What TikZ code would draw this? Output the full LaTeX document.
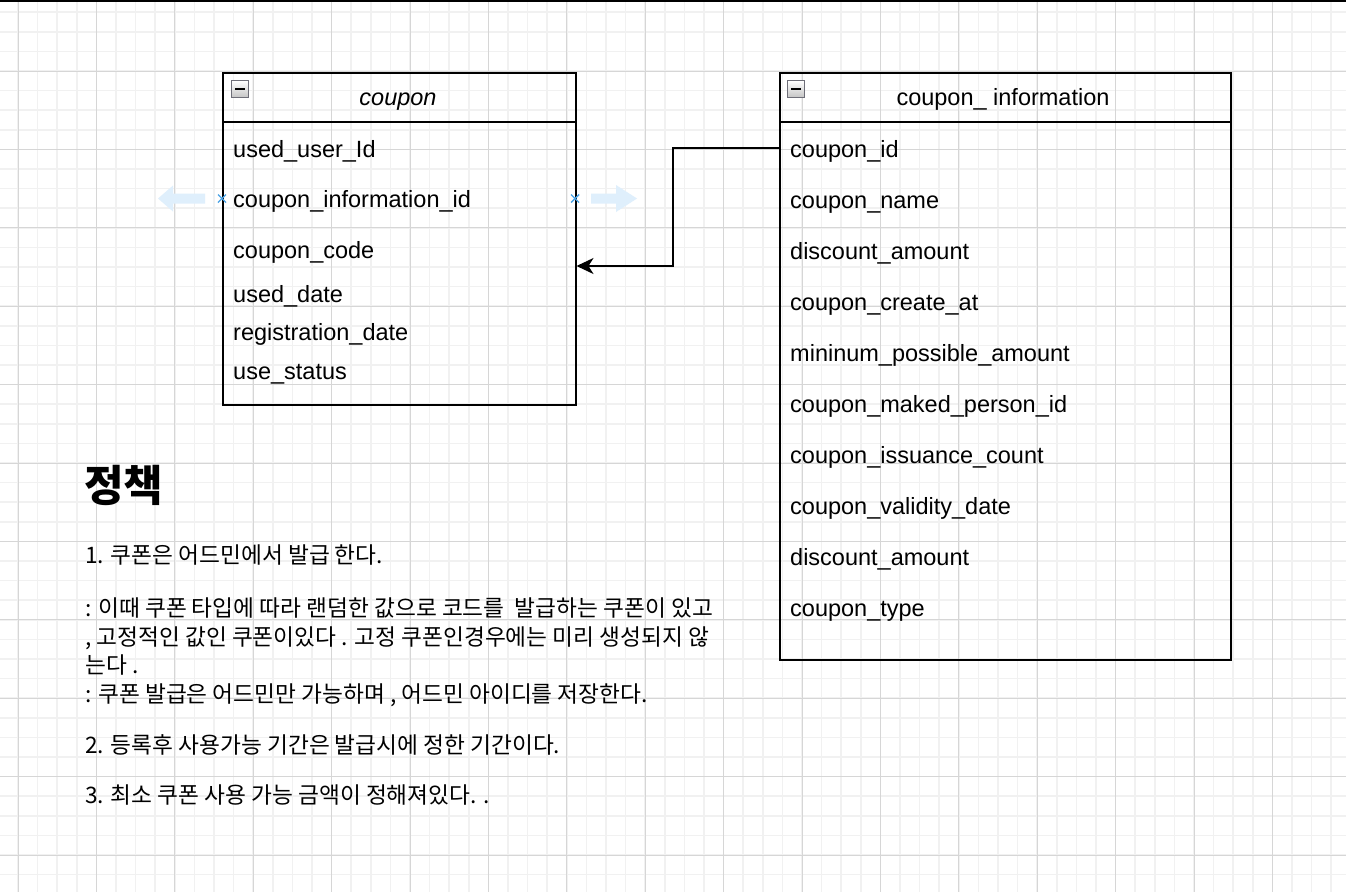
\documentclass[tikz,border=0pt]{standalone}
\usepackage{fontspec}
\setmainfont{Liberation Sans}
\newfontfamily\kr{Noto Sans CJK KR}
\usetikzlibrary{arrows.meta}
\definecolor{gridminor}{RGB}{241,241,241}
\definecolor{gridmajor}{RGB}{214,214,214}
\definecolor{hintblue}{RGB}{223,239,252}
\definecolor{xblue}{RGB}{74,163,230}
\tikzset{
  fld/.style={anchor=base west, inner sep=0pt, font=\fontsize{23.5}{28}\selectfont},
  hdr/.style={anchor=base, inner sep=0pt, font=\fontsize{23.5}{28}\selectfont},
  krtxt/.style={anchor=base west, inner sep=0pt, font=\kr\fontsize{22.7}{27}\selectfont},
  krhead/.style={anchor=base west, inner sep=0pt, font=\kr\bfseries\fontsize{43}{50}\selectfont},
  tbl/.style={draw=black, line width=1.5pt, anchor=north west, inner sep=0pt},
  icon/.style={draw={rgb,255:red,110;green,110;blue,120}, line width=1pt, top color=white, bottom color=gray!45, minimum size=16.5pt, inner sep=0pt},
  hint/.style={fill=hintblue, draw=none},
  xmark/.style={draw=xblue, line width=1.4pt},
  conn/.style={draw=black, line width=1.4pt, -{Stealth[length=17pt, width=16pt, inset=5pt]}}
}
\begin{document}
\begin{tikzpicture}[x=1pt, y=-1pt]
\useasboundingbox (0,0) rectangle (1346,892);
\fill[white] (0,0) rectangle (1346,892);
\begin{scope}
\clip (0,0) rectangle (1346,892);
\foreach \i in {0,...,73} { \draw[gridminor, line width=1.5pt] ({-60.4+19.6*\i},0) -- ({-60.4+19.6*\i},892); }
\foreach \i in {0,...,46} { \draw[gridminor, line width=1.5pt] (0,{-7.4+19.6*\i}) -- (1346,{-7.4+19.6*\i}); }
\foreach \i in {0,...,18} { \draw[gridmajor, line width=1pt] ({-60.4+78.4*\i},0) -- ({-60.4+78.4*\i},892); }
\foreach \i in {0,...,12} { \draw[gridmajor, line width=1pt] (0,{-7.4+78.4*\i}) -- (1346,{-7.4+78.4*\i}); }
\end{scope}
\fill[black] (0,0) rectangle (1346,2);

% coupon table
\node[tbl, minimum width=353pt, minimum height=332pt] (coupon) at (222,72) {};
\draw[line width=1.5pt] (222,122) -- (575,122);
\node[icon] (ic1) at (240,89) {};
\draw[line width=2pt] ([xshift=-5pt]ic1.center) -- ([xshift=5pt]ic1.center);
\node[hdr, font=\itshape\fontsize{23.5}{28}\selectfont] (coupontitle) at (398,105) {coupon};
\node[fld] (u1) at (233,157) {used\_user\_Id};
\node[fld] (u2) at (233,207) {coupon\_information\_id};
\node[fld] (u3) at (233,258) {coupon\_code};
\node[fld] (u4) at (233,302) {used\_date};
\node[fld] (u5) at (233,340) {registration\_date};
\node[fld] (u6) at (233,379) {use\_status};

% coupon_information table
\node[tbl, minimum width=451pt, minimum height=587pt] (info) at (779,72) {};
\draw[line width=1.5pt] (779,122) -- (1230,122);
\node[icon] (ic2) at (796,89) {};
\draw[line width=2pt] ([xshift=-5pt]ic2.center) -- ([xshift=5pt]ic2.center);
\node[hdr] (infotitle) at (1003,105) {coupon\_ information};
\node[fld] (i1) at (790,157) {coupon\_id};
\node[fld] (i2) at (790,208) {coupon\_name};
\node[fld] (i3) at (790,259) {discount\_amount};
\node[fld] (i4) at (790,310) {coupon\_create\_at};
\node[fld] (i5) at (790,361) {mininum\_possible\_amount};
\node[fld] (i6) at (790,412) {coupon\_maked\_person\_id};
\node[fld] (i7) at (790,463) {coupon\_issuance\_count};
\node[fld] (i8) at (790,514) {coupon\_validity\_date};
\node[fld] (i9) at (790,565) {discount\_amount};
\node[fld] (i10) at (790,616) {coupon\_type};

% connector
\coordinate (src) at (info.west |- 0,148);
\coordinate (bend) at (673,0);
\coordinate (dst) at (coupon.east |- 0,266);
\draw[conn] (src) -- (src -| bend) |- (dst);

% hover hints
\fill[hint] (158,198.5) -- (173,185.5) -- (173,193.5) -- (205,193.5) -- (205,203.5) -- (173,203.5) -- (173,211.5) -- cycle;
\fill[hint] (637,198.5) -- (616,185) -- (616,193.5) -- (591,193.5) -- (591,203.5) -- (616,203.5) -- (616,212) -- cycle;
\draw[xmark] (218,194.5) -- (226,202.5) (218,202.5) -- (226,194.5);
\draw[xmark] (571,194.5) -- (579,202.5) (571,202.5) -- (579,194.5);

% policy text
\node[krhead] (title) at (84,501) {정책};
\node[krtxt] (p1) at (85,563) {1. 쿠폰은 어드민에서 발급 한다.};
\node[krtxt] (p2) at (85,616) {: 이때 쿠폰 타입에 따라 랜덤한 값으로 코드를~ 발급하는 쿠폰이 있고};
\node[krtxt] (p3) at (85,645) {, 고정적인 값인 쿠폰이있다 . 고정 쿠폰인경우에는 미리 생성되지 않};
\node[krtxt] (p4) at (85,673) {는다 .};
\node[krtxt] (p5) at (85,702) {: 쿠폰 발급은 어드민만 가능하며 , 어드민 아이디를 저장한다.};
\node[krtxt] (p6) at (85,753) {2. 등록후 사용가능 기간은 발급시에 정한 기간이다.};
\node[krtxt] (p7) at (85,803) {3. 최소 쿠폰 사용 가능 금액이 정해져있다. .};
\end{tikzpicture}
\end{document}
